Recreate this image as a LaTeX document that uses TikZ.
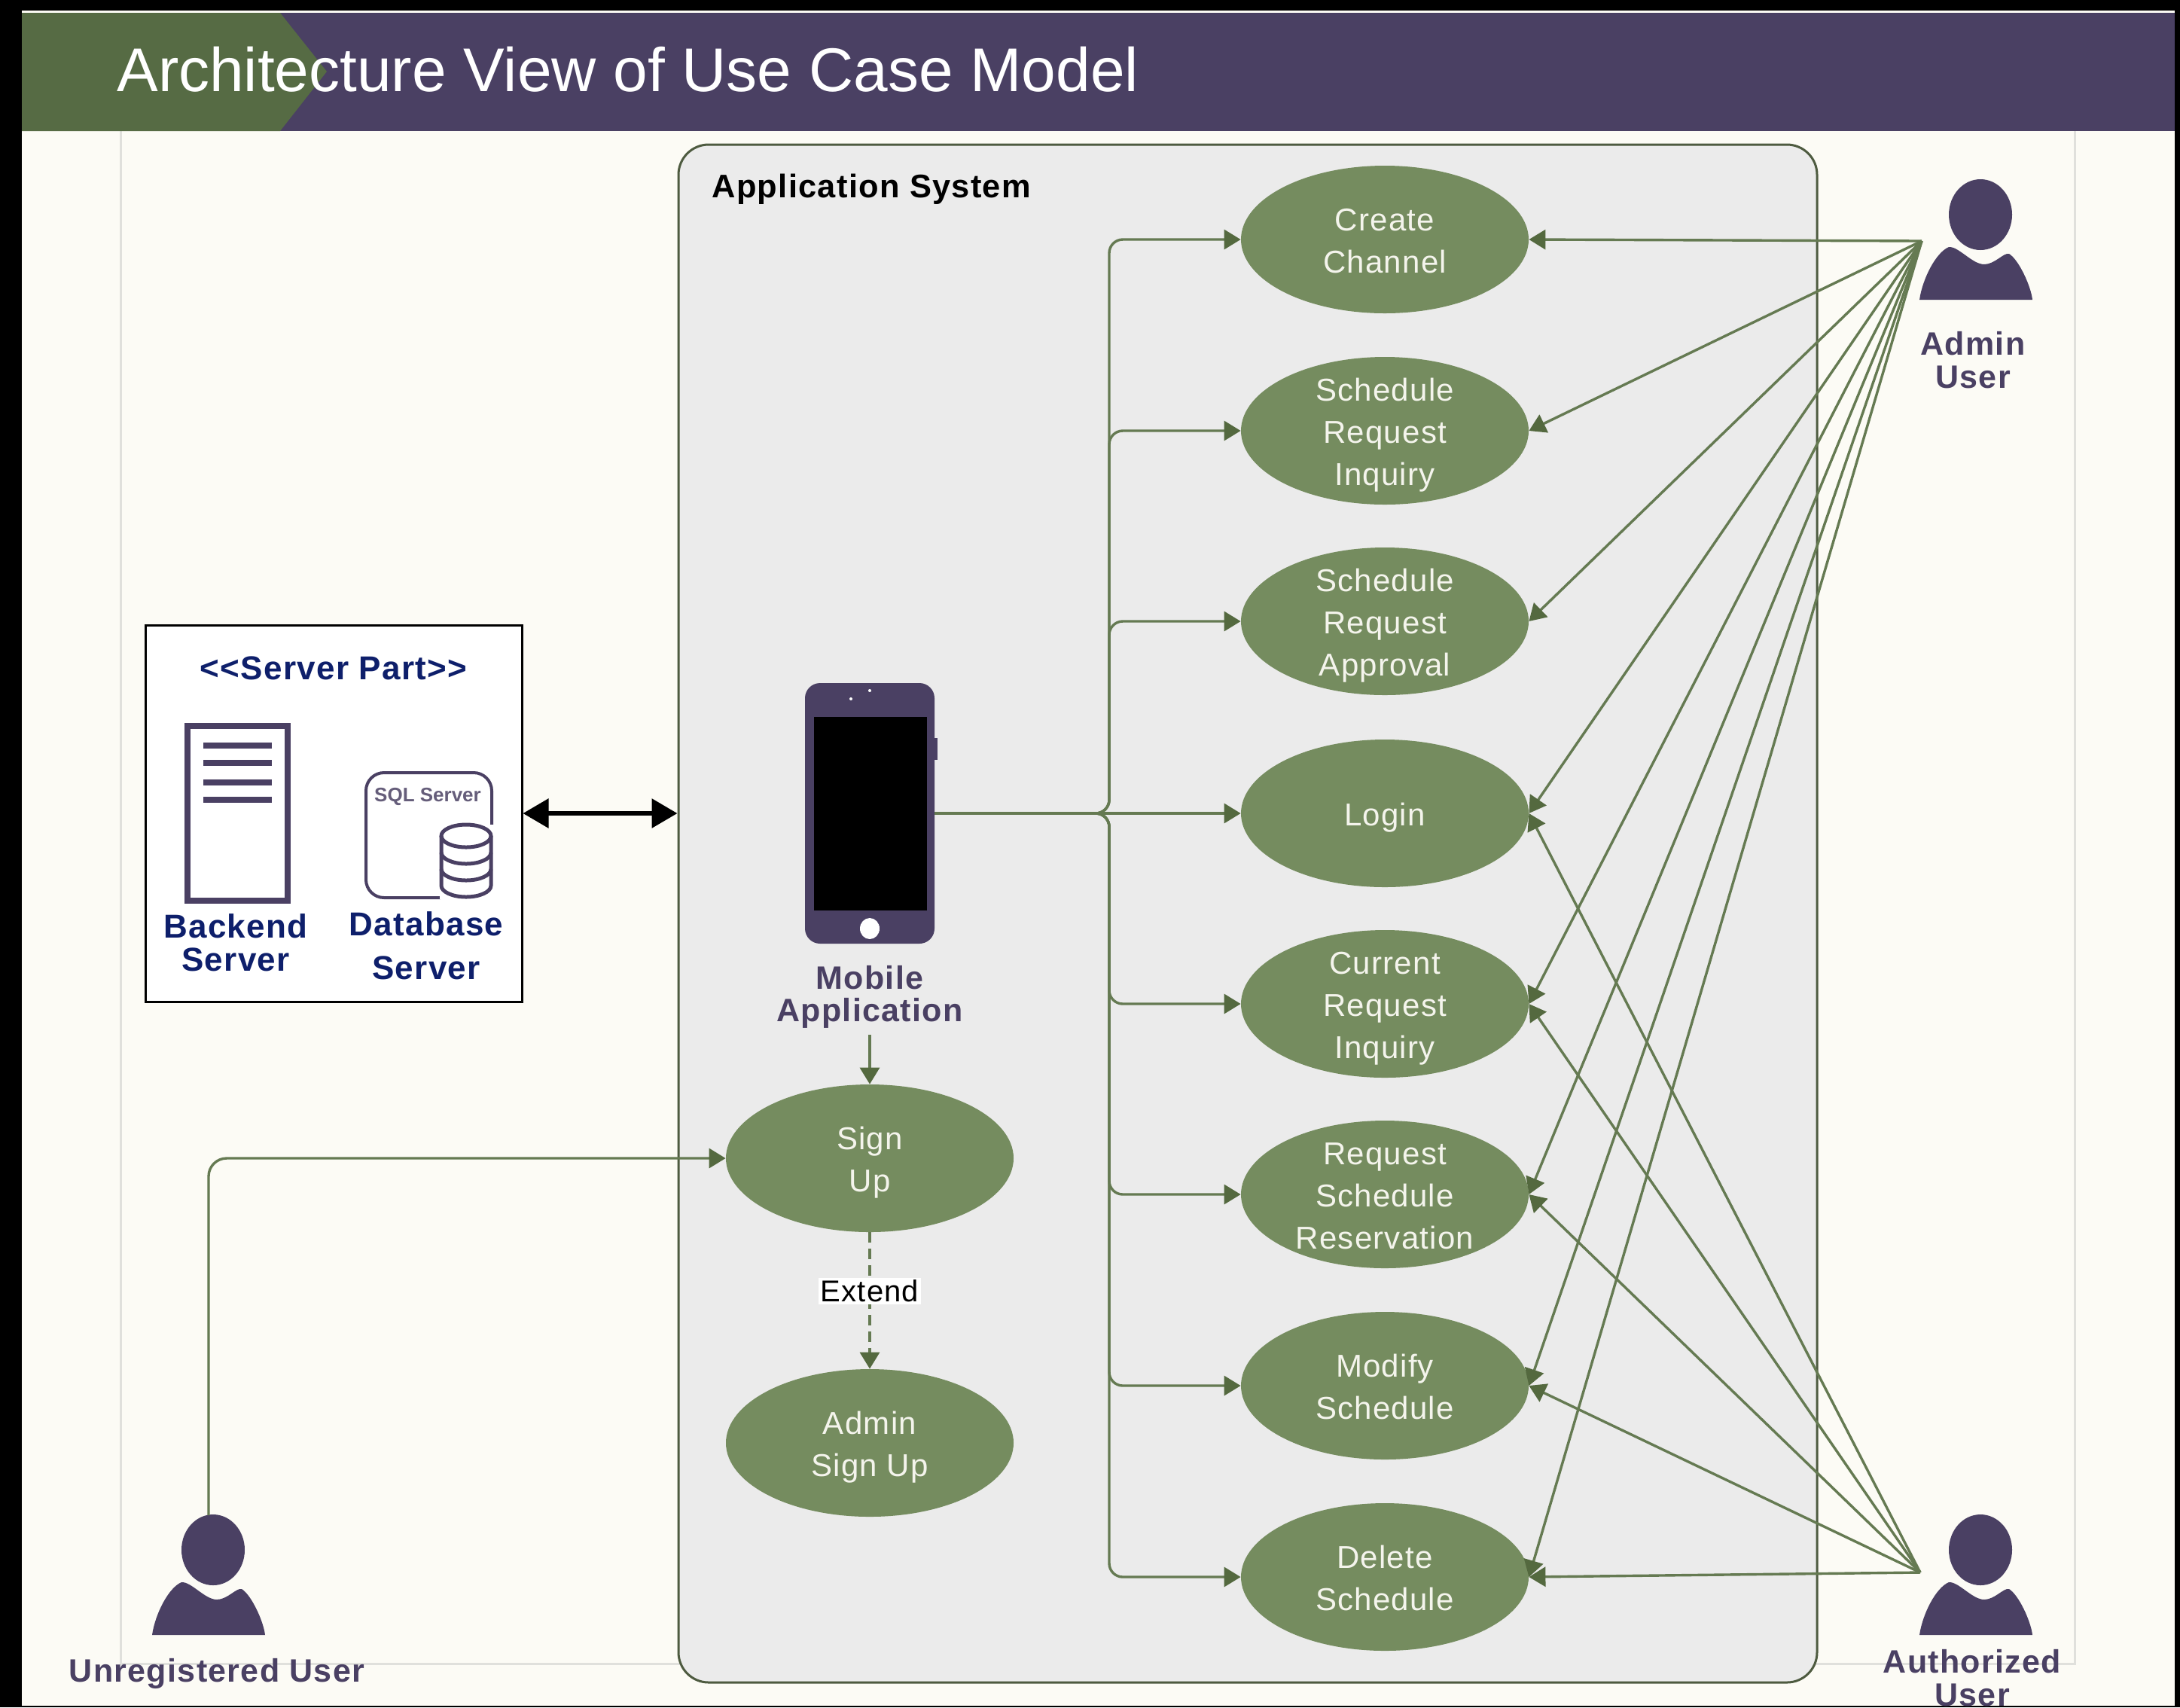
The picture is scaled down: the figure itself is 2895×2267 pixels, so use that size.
\documentclass[tikz,border=0pt]{standalone}
\usepackage{fontspec}
\setmainfont{Liberation Sans}
\newfontfamily\lblfont[LetterSpace=3]{Liberation Sans}
\usetikzlibrary{arrows.meta,shapes.geometric}
\definecolor{bgpaper}{HTML}{FCFBF5}
\definecolor{purp}{HTML}{4A4063}
\definecolor{bannergreen}{HTML}{566B44}
\definecolor{ucgreen}{HTML}{758C5F}
\definecolor{conn}{HTML}{657A52}
\definecolor{headgreen}{HTML}{54693F}
\definecolor{navy}{HTML}{0E1F6B}
\definecolor{sysfill}{HTML}{EBEBEB}
\definecolor{sysline}{HTML}{4E5B40}
\definecolor{framegrey}{HTML}{E0E0DC}
\definecolor{uctext}{HTML}{F4F4EC}
\newcommand{\uclab}[1]{\raisebox{-2.5pt}[\height][\depth]{\begin{tabular}{@{}c@{}}#1\end{tabular}}}
\tikzset{
  x=0.5pt,y=-0.5pt,
  uc/.style={ellipse,fill=ucgreen,draw=none,inner sep=-16pt,minimum width=191pt,minimum height=98pt,
    text=uctext,font=\lblfont\fontsize{21}{28}\selectfont},
  link/.style={draw=conn,line width=1.7pt,-{Triangle[length=11pt,width=13pt,color=headgreen]}},
  actorlabel/.style={text=purp,align=center,font=\lblfont\bfseries\fontsize{21.5}{21.8}\selectfont,inner sep=0pt},
  serverlabel/.style={text=navy,align=center,font=\lblfont\bfseries\fontsize{22}{22}\selectfont,inner sep=0pt},
  actorshape/.style={fill=purp,draw=none},
}
\newcommand{\actorglyph}[2]{%
  \begin{scope}[shift={(#1,#2)}]
    \fill[actorshape] (-1,0) ellipse [x radius=21pt,y radius=23.5pt];
    \fill[actorshape] (-82,113) .. controls (-78,85) and (-60,50) .. (-43,43)
      .. controls (-30,42) and (-12,66) .. (4,66)
      .. controls (18,66) and (30,50) .. (37,52)
      .. controls (50,60) and (66,95) .. (68,113) -- cycle;
  \end{scope}}
\begin{document}
\begin{tikzpicture}
\useasboundingbox (0,0) rectangle (2895,2267);
% page
\fill[black] (0,0) rectangle (2895,2267);
\fill[bgpaper] (29,14) rectangle (2888,2265);
\draw[framegrey,line width=1.5pt] (160,174) -- (160,2209) -- (2755,2209) -- (2755,174);
% banner
\fill[purp] (29,17) rectangle (2888,174);
\fill[bannergreen] (29,17) -- (372,17) -- (434,95) -- (372,174) -- (29,174) -- cycle;
\node[anchor=base west,inner sep=0pt,text=white,font=\fontsize{41}{41}\selectfont] (title) at (155,121) {Architecture View of Use Case Model};
% application system
\node[draw=sysline,fill=sysfill,line width=1.5pt,rounded corners=20pt,minimum width=756pt,minimum height=1021pt,inner sep=0pt] (sys) at (1657,1213) {};
\node[anchor=west,inner sep=0pt,font=\lblfont\bfseries\fontsize{21.7}{22}\selectfont] (systitle) at (945,251) {Application System};
% use cases
\node[uc] (e1) at (1839,318) {\uclab{Create\\Channel}};
\node[uc] (e2) at (1839,572) {\uclab{Schedule\\Request\\Inquiry}};
\node[uc] (e3) at (1839,825) {\uclab{Schedule\\Request\\Approval}};
\node[uc] (e4) at (1839,1080) {\uclab{Login}};
\node[uc] (e5) at (1839,1333) {\uclab{Current\\Request\\Inquiry}};
\node[uc] (e6) at (1839,1586) {\uclab{Request\\Schedule\\Reservation}};
\node[uc] (e7) at (1839,1840) {\uclab{Modify\\Schedule}};
\node[uc] (e8) at (1839,2094) {\uclab{Delete\\Schedule}};
\node[uc] (su) at (1155,1538) {\uclab{Sign\\Up}};
\node[uc] (au) at (1155,1916) {\uclab{Admin\\Sign Up}};
% phone
\node[fill=purp,rounded corners=10pt,minimum width=86pt,minimum height=173pt,inner sep=0pt] (ph) at (1155,1080) {};
\fill[purp] (1239,980) rectangle (1245,1009);
\fill[black] (1081,952) rectangle (1231,1209);
\fill[white] (1155,1233) ellipse [x radius=6.5pt,y radius=7pt];
\fill[white] (1155,917) circle (1pt);
\fill[white] (1130,928) circle (1pt);
\node[actorlabel] (mobile) at (1155,1324) {Mobile\\Application};
% server part
\node[draw=black,fill=white,line width=1.5pt,minimum width=250pt,minimum height=250pt,inner sep=0pt] (sb) at (443,1080) {};
\node[serverlabel] (sptitle) at (443,887) {<<Server Part>>};
\draw[purp,line width=4pt] (249,964) rectangle (382,1196);
\foreach \yy in {990,1013,1039,1062} \draw[purp,line width=4pt] (270,\yy) -- (361,\yy);
\node[serverlabel] (backend) at (313,1252) {Backend\\Server};
% database icon
\draw[purp,line width=2pt,rounded corners=12pt] (653,1095) -- (653,1026) -- (486,1026) -- (486,1192) -- (585,1192);
\node[inner sep=0pt,text=purp!85,font=\bfseries\fontsize{13}{13}\selectfont] (sql) at (568,1058) {SQL Server};
\fill[white] (584,1095) rectangle (656,1194);
\draw[purp,line width=2.5pt] (586,1110) -- (586,1176) arc [start angle=180,end angle=360,x radius=16.5pt,y radius=7.5pt] -- (652,1110);
\draw[purp,line width=2.5pt] (619,1110) ellipse [x radius=16.5pt,y radius=7.5pt];
\draw[purp,line width=2.5pt] (586,1132) arc [start angle=180,end angle=360,x radius=16.5pt,y radius=7.5pt];
\draw[purp,line width=2.5pt] (586,1154) arc [start angle=180,end angle=360,x radius=16.5pt,y radius=7.5pt];
\node[serverlabel,font=\lblfont\bfseries\fontsize{22}{29}\selectfont] (dbl) at (566,1256) {Database\\Server};
% actors
\actorglyph{2631}{285}
\actorglyph{2631}{2058}
\actorglyph{284}{2058}
\coordinate (adminhub) at (2552,320);
\coordinate (authhub) at (2550,2088);
\coordinate (unreghub) at (277,2012);
\node[actorlabel] (adminl) at (2620,478) {Admin\\User};
\node[actorlabel] (authl) at (2619,2228) {Authorized\\User};
\node[actorlabel,anchor=base] (unregl) at (288,2233) {Unregistered User};
% connectors
\coordinate (trunk) at (1473,1080);
\draw[link] (ph.east) -- (e4.west);
\foreach \t in {e1,e2,e3,e5,e6,e7,e8}
  \draw[link,rounded corners=9pt] (trunk -| ph.east) -- (trunk) -- (trunk |- \t.west) -- (\t.west);
\foreach \t in {e1,e2,e3,e4,e5,e6,e7,e8}
  \draw[link] (adminhub) -- (\t.east);
\foreach \t in {e4,e5,e6,e7,e8}
  \draw[link] (authhub) -- (\t.east);
\draw[link] (mobile.south) ++(0,8) -- (su.north);
\draw[link,dash pattern=on 7pt off 4pt] (su.south) -- node[pos=0.43,fill=white,inner sep=1.5pt,text=black,font=\lblfont\fontsize{20}{20}\selectfont] (ext) {Extend} (au.north);
\draw[link,rounded corners=12pt] (unreghub) -- (unreghub |- su.west) -- (su.west);
\draw[black,line width=3pt,{Triangle[length=17pt,width=19pt]}-{Triangle[length=17pt,width=19pt]}] (sb.east) -- (sb.east -| sys.west);
\end{tikzpicture}
\end{document}
